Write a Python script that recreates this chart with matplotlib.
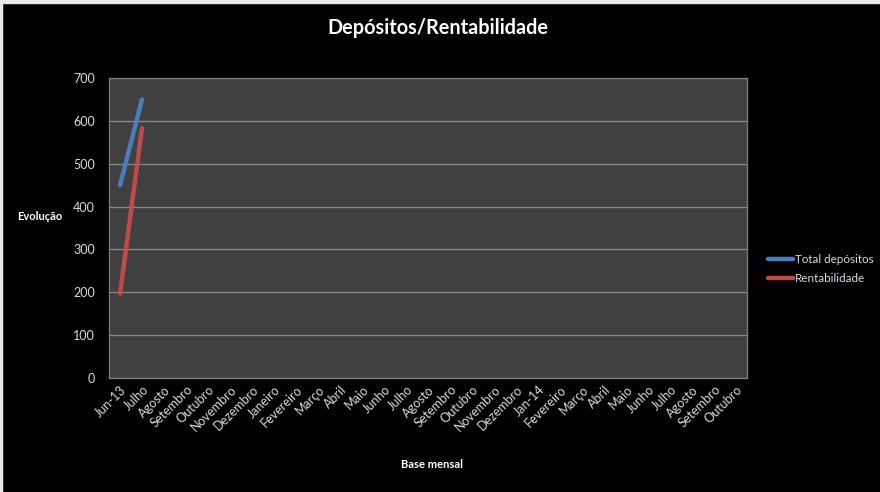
import matplotlib.pyplot as plt
import matplotlib.patches as mpatches

plt.rcParams['font.family'] = ['Lato', 'DejaVu Sans']

# categorias (eixo x) e series
meses = ['Jun-13', 'Julho', 'Agosto', 'Setembro', 'Outubro', 'Novembro', 'Dezembro',
         'Janeiro', 'Fevereiro', 'Março', 'Abril', 'Maio', 'Junho', 'Julho', 'Agosto',
         'Setembro', 'Outubro', 'Novembro', 'Dezembro', 'Jan-14', 'Fevereiro', 'Março',
         'Abril', 'Maio', 'Junho', 'Julho', 'Agosto', 'Setembro', 'Outubro']
total_depositos = [450, 650]
rentabilidade = [197, 583]
yticks = [0, 100, 200, 300, 400, 500, 600, 700]

txt = '#d9d9d9'

fig = plt.figure(figsize=(8.8, 4.92), dpi=100, facecolor='#030104')
ax = fig.add_axes([0.1239, 0.2317, 0.7250, 0.6098])
ax.set_facecolor('#404040')

x = range(len(meses))
ax.plot(x[:len(total_depositos)], total_depositos, color='#4a7ebb', lw=3.2,
        solid_capstyle='round', label='Total depósitos')
ax.plot(x[:len(rentabilidade)], rentabilidade, color='#be4b48', lw=3.2,
        solid_capstyle='round', label='Rentabilidade')

ax.set_xlim(-0.5, len(meses) - 0.5)
ax.set_ylim(0, 700)
ax.set_yticks(yticks)
ax.set_xticks(list(x))
ax.set_xticklabels(meses, rotation=45, ha='right', rotation_mode='anchor')
ax.tick_params(axis='both', colors=txt, labelsize=9, length=0)
ax.tick_params(axis='y', pad=10)
ax.tick_params(axis='x', pad=4)
for lab in ax.get_xticklabels() + ax.get_yticklabels():
    lab.set_color(txt)
ax.grid(axis='y', color='#8c8c8c', lw=0.9)
ax.set_axisbelow(True)
for s in ax.spines.values():
    s.set_color('#7f7f7f')
    s.set_linewidth(0.9)

fig.text(0.4977, 0.944, 'Depósitos/Rentabilidade', ha='center', va='center',
         fontsize=14.3, fontweight='bold', color='white')
fig.text(0.045, 0.559, 'Evolução', ha='center', va='center', fontsize=8,
         fontweight='bold', color='white')
fig.text(0.491, 0.055, 'Base mensal', ha='center', va='center', fontsize=8,
         fontweight='bold', color='white')

leg = ax.legend(loc='center left', bbox_to_anchor=(1.016, 0.363), frameon=False,
                fontsize=8.4, handlelength=2.2, handletextpad=0.1, labelspacing=0.75)
for t in leg.get_texts():
    t.set_color(txt)

# faixa clara da folha de calculo no topo e a esquerda
fig.patches.append(mpatches.Rectangle((0, 0.994), 1, 0.006, transform=fig.transFigure,
                                      color='#e8e8e8', zorder=0))
fig.patches.append(mpatches.Rectangle((0, 0), 0.002, 1, transform=fig.transFigure,
                                      color='#e8e8e8', zorder=0))

fig.savefig('out.png', dpi=100, facecolor=fig.get_facecolor())
